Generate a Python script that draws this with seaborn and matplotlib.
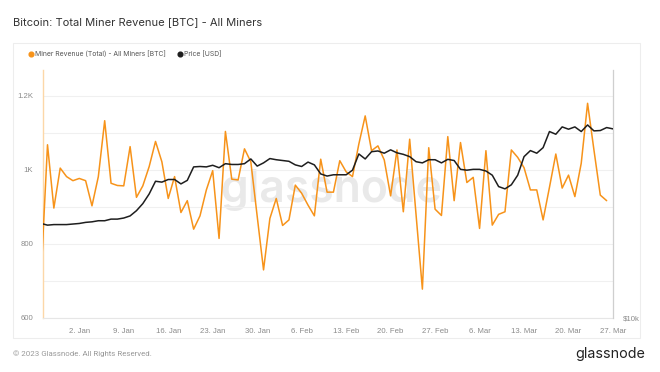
import matplotlib
matplotlib.use("Agg")
import matplotlib.pyplot as plt
import matplotlib.dates as mdates
from matplotlib.lines import Line2D
from matplotlib.patches import Rectangle
from matplotlib.ticker import FixedLocator, FixedFormatter, NullLocator, FuncFormatter
import seaborn as sns
import pandas as pd
import numpy as np

# ---------------- data ----------------
revenue_start = "2022-12-27"
revenue_btc = [720, 1068, 897, 1005, 982, 971, 977, 971, 903, 982, 1133, 964, 958, 957, 1063, 926,
               957, 1009, 1077, 1022, 923, 982, 885, 917, 840, 876, 946, 998, 815, 1104, 975, 973,
               1057, 1022, 875, 730, 869, 923, 850, 865, 959, 937, 905, 876, 1029, 940, 940, 1025,
               995, 982, 1070, 1146, 1052, 1065, 1027, 930, 1054, 887, 1083,
               880, 678, 1060, 894, 877, 1090, 917, 1074, 966, 980, 842, 1052, 851, 880, 887, 1054,
               1034, 1006, 946, 946, 865, 953, 1043, 951, 986, 928, 1018, 1180, 1054, 932, 917]
price_start = "2022-12-27"
price_usd_k = [16.7, 16.55, 16.6, 16.6, 16.6, 16.65, 16.7, 16.8, 16.85, 16.95, 16.95, 17.1, 17.1, 17.2,
               17.4, 17.9, 18.6, 19.6, 21.0, 20.9, 21.2, 21.2, 20.7, 21.1, 22.7, 22.75, 22.7, 22.9,
               22.6, 23.1, 23.0, 23.0,
               23.1, 23.7, 22.8, 23.2, 23.75, 23.6, 23.5, 23.4, 22.95, 22.75, 23.3, 22.95, 21.85,
               21.6, 21.75, 21.75, 21.75, 22.3, 24.35, 23.7, 24.65, 24.75, 24.45, 24.9, 24.5, 24.3,
               24.0, 23.35,
               23.2, 23.6, 23.6, 23.2, 23.65, 23.5, 22.4, 22.3, 22.4, 22.4, 22.2, 21.7, 20.4, 20.15,
               20.6, 21.7, 24.0, 24.8, 24.45, 25.2, 27.5, 27.1, 28.2, 27.85, 28.2, 27.5, 28.5, 27.6,
               27.65, 28.1, 27.9]
left_ticks = [600, 700, 800, 900, 1000, 1100, 1200]
left_labels = ["600", "", "800", "", "1K", "", "1.2K"]
right_ticks = [10000]
right_labels = ["$10k"]

title = "Bitcoin: Total Miner Revenue [BTC] - All Miners"
series_names = ["Miner Revenue (Total) - All Miners [BTC]", "Price [USD]"]

df_rev = pd.DataFrame({"date": pd.date_range(revenue_start, periods=len(revenue_btc), freq="D"),
                       "value": revenue_btc})
df_price = pd.DataFrame({"date": pd.date_range(price_start, periods=len(price_usd_k), freq="D"),
                         "price": np.array(price_usd_k) * 1000})

# ---------------- style ----------------
sns.set_theme(style="white")
plt.rcParams["font.family"] = ["Liberation Sans", "DejaVu Sans"]

ORANGE = "#f7931a"
BLACK = "#1e1e1e"
W, H = 660, 372

fig = plt.figure(figsize=(W / 100, H / 100), dpi=100)
fig.patch.set_facecolor("white")

# card border
fig.add_artist(Rectangle((13 / W, 1 - 338 / H), (640 - 13) / W, (338 - 43) / H,
                         transform=fig.transFigure, fill=False, edgecolor="#ededed", lw=0.8))

ax = fig.add_axes([43 / W, 1 - 318 / H, 570 / W, 248 / H])
ax.set_facecolor("none")

# watermark (behind the lines)
ax.text(331 / W, 1 - 190 / H, "glassnode", transform=fig.transFigure, ha="center", va="center",
        fontsize=32, fontweight="semibold", color="#e9e9e9",
        family=["Inter", "DejaVu Sans"], zorder=0.5)

sns.lineplot(data=df_rev, x="date", y="value", ax=ax, color=ORANGE, lw=1.1, zorder=3)
ax.set_ylim(600, 1270)
ax.yaxis.set_major_locator(FixedLocator(left_ticks))
ax.yaxis.set_major_formatter(FixedFormatter(left_labels))
ax.grid(axis="y", color="#f0f0f0", lw=0.8)
ax.grid(axis="x", visible=False)
ax.set_axisbelow(True)
ax.set_xlabel("")
ax.set_ylabel("")

ax.set_xlim(pd.Timestamp("2022-12-27 07:00"), pd.Timestamp("2023-03-27 00:00"))
ax.xaxis.set_major_locator(mdates.WeekdayLocator(byweekday=mdates.MO))
ax.xaxis.set_major_formatter(FuncFormatter(
    lambda v, pos: f"{mdates.num2date(v).day}. {mdates.num2date(v).strftime('%b')}"))
ax.tick_params(axis="x", length=0, pad=7, labelsize=5.6, labelcolor="#8a8a8a")
ax.tick_params(axis="y", length=0, pad=7, labelsize=5.6, labelcolor="#8a8a8a")

for s in ["top", "right"]:
    ax.spines[s].set_visible(False)
ax.spines["left"].set_color("#fcd7a8")
ax.spines["left"].set_linewidth(1.0)
ax.spines["bottom"].set_color("#e6e6e6")
ax.spines["bottom"].set_linewidth(0.8)

ax2 = ax.twinx()
sns.lineplot(data=df_price, x="date", y="price", ax=ax2, color=BLACK, lw=1.1, zorder=4)
ax2.set_yscale("log")
ax2.set_ylim(10000, 38400)
ax2.yaxis.set_major_locator(FixedLocator(right_ticks))
ax2.yaxis.set_major_formatter(FixedFormatter(right_labels))
ax2.yaxis.set_minor_locator(NullLocator())
ax2.tick_params(axis="y", length=0, pad=7, labelsize=5.6, labelcolor="#8a8a8a")
ax2.set_ylabel("")
ax2.set_xlabel("")
ax2.grid(False)
for s in ["top", "left", "bottom"]:
    ax2.spines[s].set_visible(False)
ax2.spines["right"].set_color("#cfcfcf")
ax2.spines["right"].set_linewidth(0.9)
ax2.set_xlim(ax.get_xlim())

# title
fig.text(13 / W, 1 - 22 / H, title, ha="left", va="center", fontsize=8.0, color="#333333",
         family=["Inter", "DejaVu Sans"])

# legend
handles = [Line2D([], [], marker="o", ls="", color=ORANGE, markersize=3.4),
           Line2D([], [], marker="o", ls="", color=BLACK, markersize=3.4)]
fig.legend(handles, series_names, loc="center left", bbox_to_anchor=(25 / W, 1 - 54 / H),
           ncol=2, frameon=False, handletextpad=0.05, columnspacing=1.6,
           borderaxespad=0, handlelength=1.0, labelcolor="#555555",
           prop={"family": ["Inter", "DejaVu Sans"], "size": 4.9})

# footer
fig.text(13 / W, 1 - 354 / H, "© 2023 Glassnode. All Rights Reserved.", ha="left", va="center",
         fontsize=5.7, color="#999999", family=["Roboto", "DejaVu Sans"])
fig.text(645 / W, 1 - 354 / H, "glassnode", ha="right", va="center",
         fontsize=10.3, color="#222222", family=["Inter", "DejaVu Sans"])

fig.savefig("out.png", dpi=100, facecolor="white")
